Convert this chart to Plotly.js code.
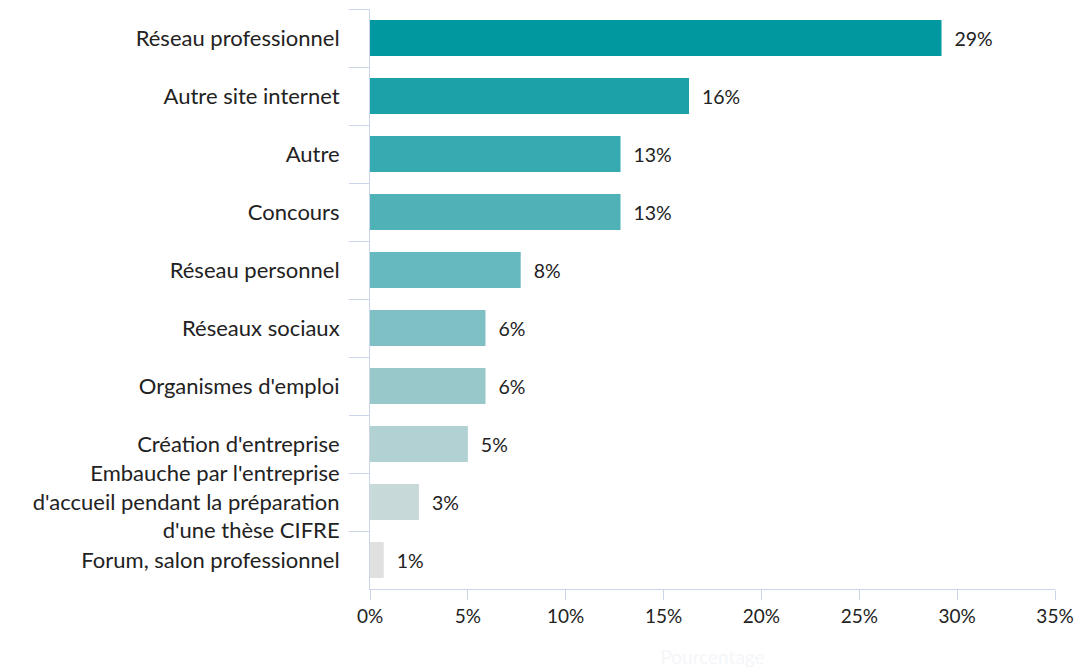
<!DOCTYPE html>
<html>
<head>
<meta charset="utf-8">
<script src="https://cdn.plot.ly/plotly-3.0.1.min.js"></script>
<style>html,body{margin:0;padding:0;background:#fff;}#chart{width:1077px;height:670px;}</style>
</head>
<body>
<div id="chart"></div>
<script>
const categories = [
  "Réseau professionnel",
  "Autre site internet",
  "Autre",
  "Concours",
  "Réseau personnel",
  "Réseaux sociaux",
  "Organismes d'emploi",
  "Création d'entreprise",
  "Embauche par l'entreprise<br>d'accueil pendant la préparation<br>d'une thèse CIFRE",
  "Forum, salon professionnel"
];
const values = [29.2, 16.3, 12.8, 12.8, 7.7, 5.9, 5.9, 5.0, 2.5, 0.7];
const valueLabels = ["29%", "16%", "13%", "13%", "8%", "6%", "6%", "5%", "3%", "1%"];
const barColors = ["#01999f", "#1aa2a8", "#35aab0", "#4eb2b7", "#66b9be", "#7fc0c4", "#98c8ca", "#b1d1d2", "#c8d9d9", "#e0e0e0"];
const xTickVals = [0, 5, 10, 15, 20, 25, 30, 35];
const xTickText = ["0%", "5%", "10%", "15%", "20%", "25%", "30%", "35%"];

const FONT = "Lato, 'Open Sans', sans-serif";

const trace = {
  type: "bar",
  orientation: "h",
  y: categories,
  x: values,
  text: valueLabels.map(t => "\u00a0\u00a0" + t),
  textposition: "outside",
  cliponaxis: false,
  textfont: {family: FONT, size: 19.5, color: "#222222"},
  marker: {color: barColors},
  hoverinfo: "none"
};

const layout = {
  width: 1077,
  height: 670,
  margin: {l: 370, r: 22, t: 9, b: 81},
  paper_bgcolor: "#ffffff",
  plot_bgcolor: "#ffffff",
  showlegend: false,
  bargap: 0.38,
  font: {family: FONT, size: 19, color: "#222222"},
  xaxis: {
    range: [0, 35],
    tickvals: xTickVals,
    ticktext: xTickText,
    showgrid: false,
    zeroline: false,
    showline: true,
    linecolor: "#ccd6eb",
    linewidth: 1,
    ticks: "outside",
    ticklen: 10,
    tickcolor: "#ccd6eb",
    tickfont: {family: FONT, size: 19, color: "#222222"},
    title: {text: "Pourcentage", font: {family: FONT, size: 19, color: "#f4f6f9"}, standoff: 24},
    fixedrange: true
  },
  yaxis: {
    type: "category",
    autorange: "reversed",
    tickson: "boundaries",
    showgrid: false,
    zeroline: false,
    showline: true,
    linecolor: "#ccd6eb",
    linewidth: 1,
    ticks: "outside",
    ticklen: 20,
    tickcolor: "#ccd6eb",
    ticklabelstandoff: 25,
    tickfont: {family: FONT, size: 22, color: "#222222"},
    fixedrange: true
  }
};

Plotly.newPlot("chart", [trace], layout, {displayModeBar: false, staticPlot: true});
</script>
</body>
</html>
